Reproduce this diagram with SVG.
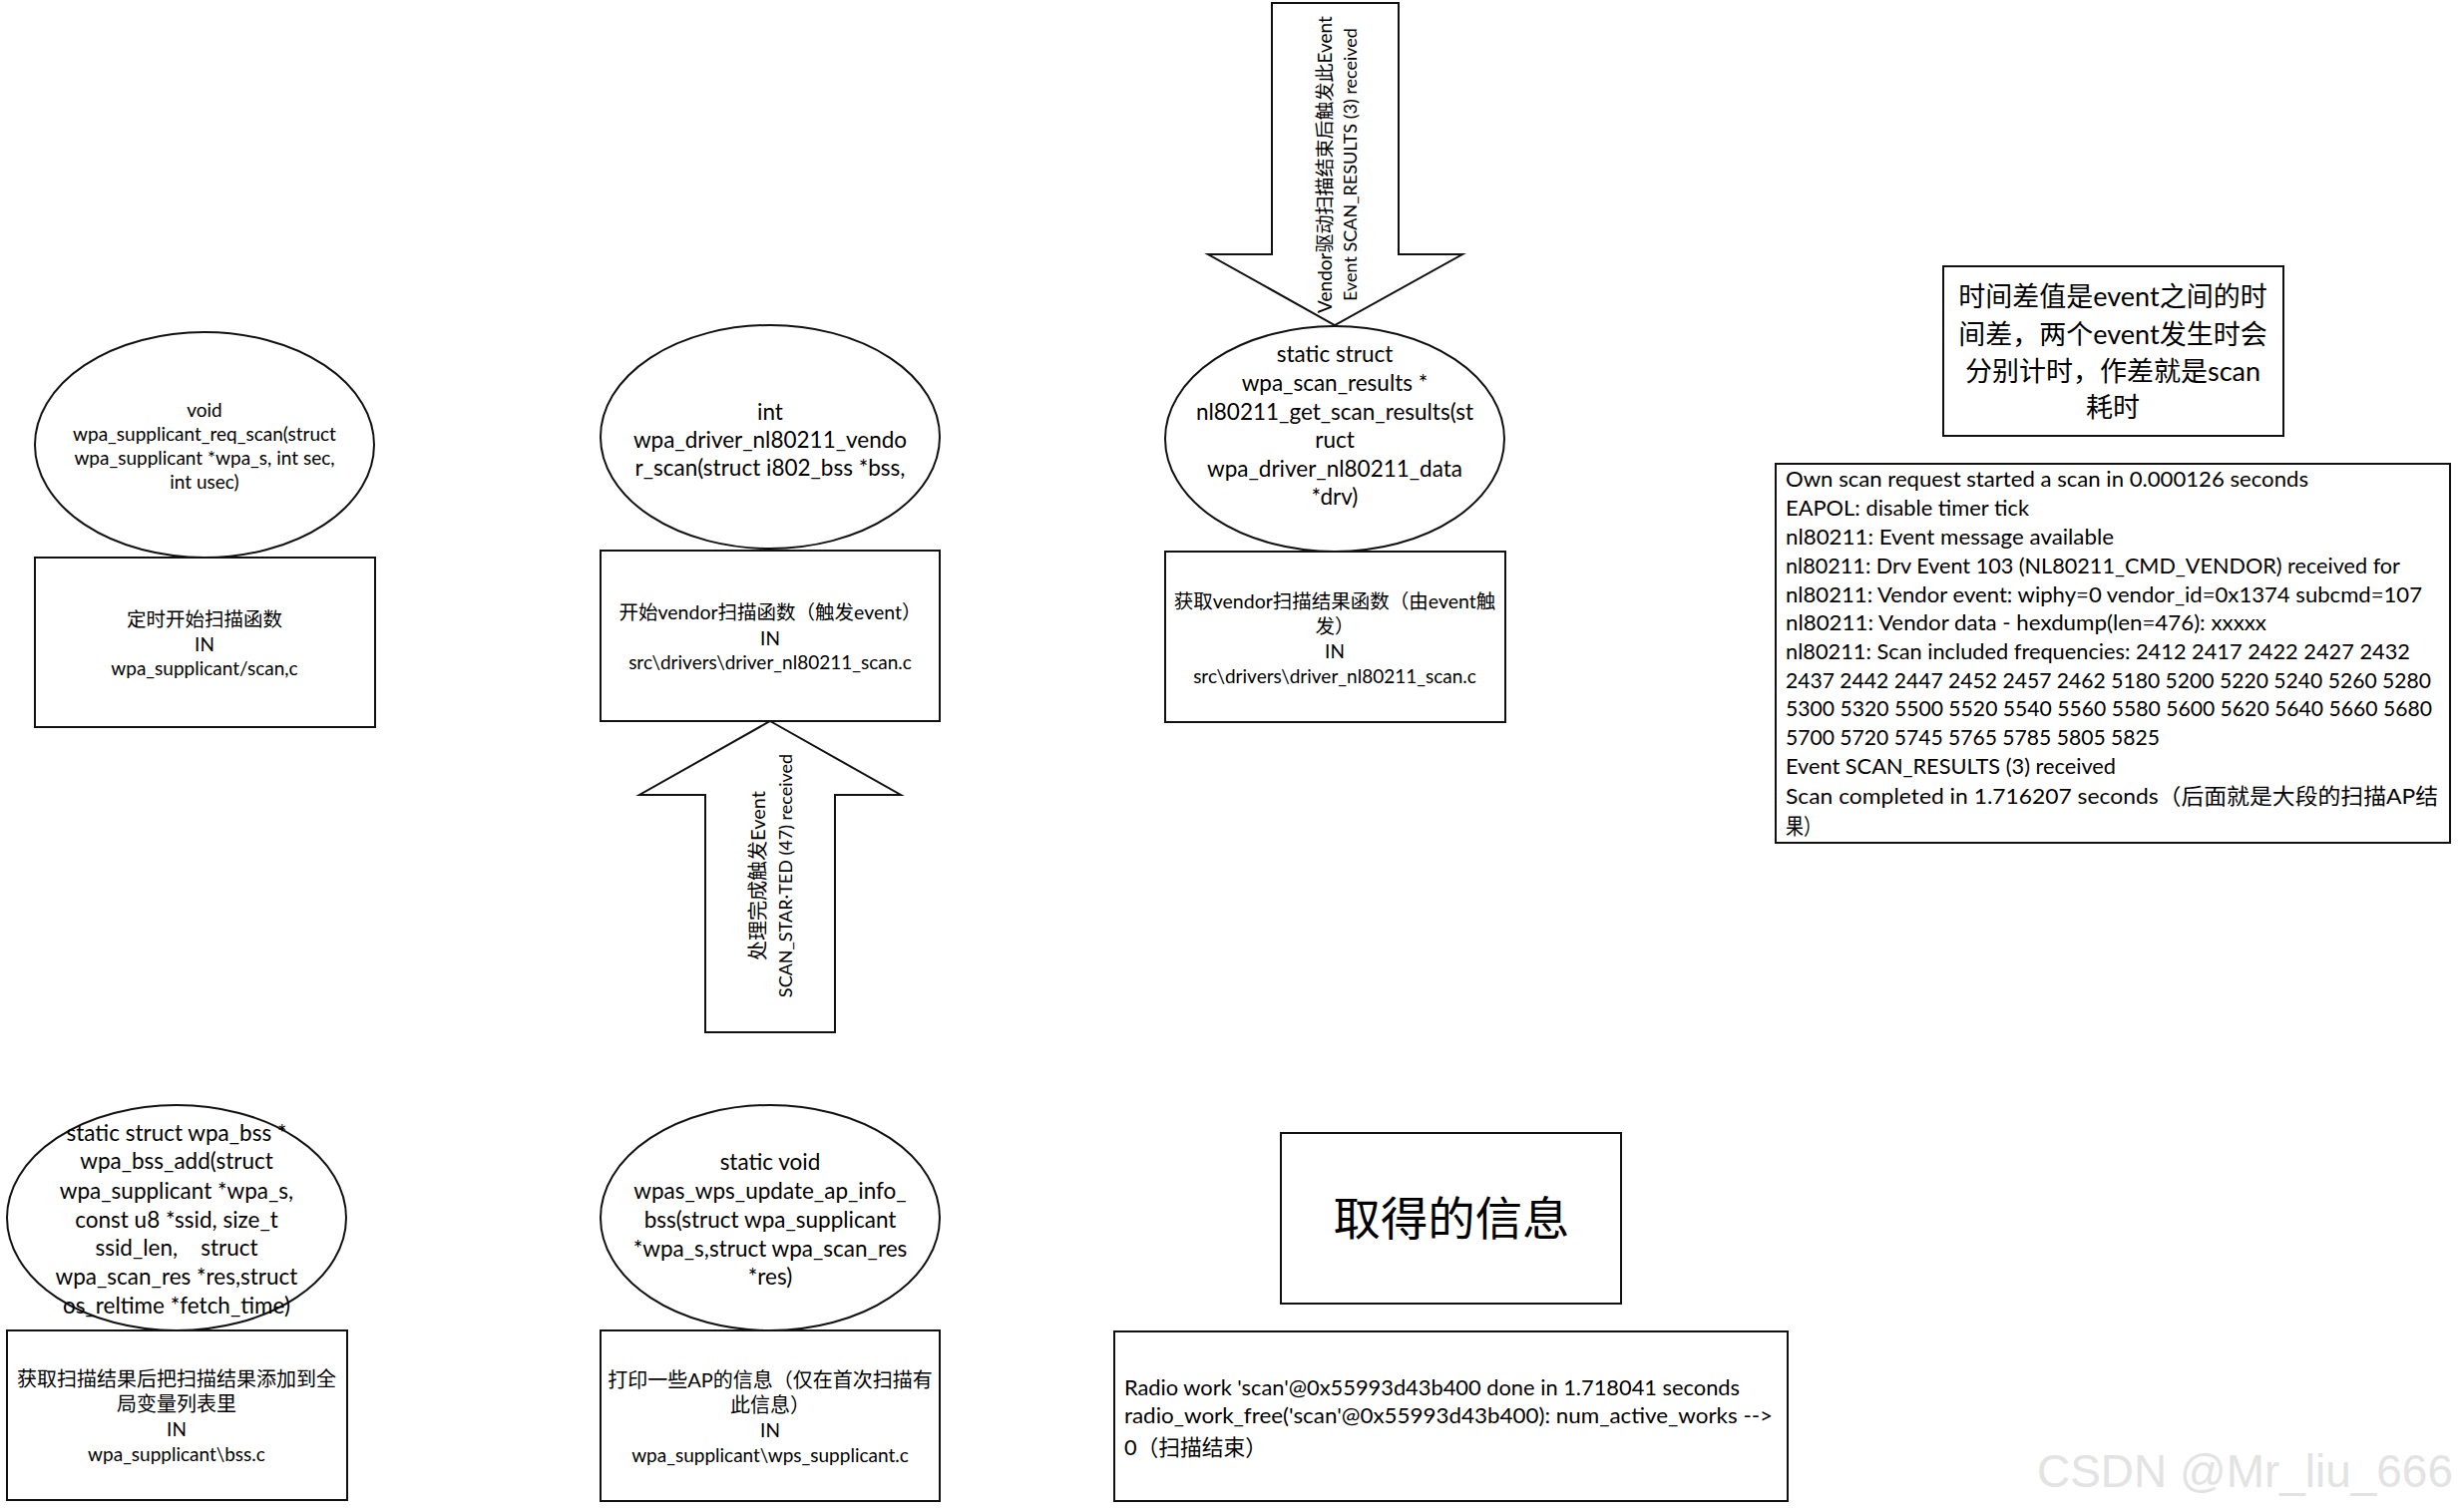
<svg xmlns="http://www.w3.org/2000/svg" width="2464" height="1516" viewBox="0 0 2464 1516">
<style>
.shape{fill:#fff;stroke:#111;stroke-width:2}
.t{font-family:Lato,"Noto Sans CJK SC",sans-serif;fill:#000;text-anchor:middle;dominant-baseline:central}
.s18{font-size:18px}.s19{font-size:19px}.s195{font-size:19.5px}.s20{font-size:20px}.s22{font-size:22.5px}.s27{font-size:27px}
.log{font-family:Lato,"Noto Sans CJK SC",sans-serif;fill:#000;font-size:22px;dominant-baseline:central}
.pre{white-space:pre}
</style>
<rect width="2464" height="1516" fill="#fff"/>
<g id="connectors">
  <g id="arrow-up">
    <polygon class="shape" points="772,723 903,797 837,797 837,1035 707,1035 707,797 641,797"/>
    <g transform="translate(773,878) rotate(-90)">
      <text class="t s20" x="0" y="-14">处理完成触发Event</text>
      <text class="t s18" x="0" y="14">SCAN_STAR·TED (47) received</text>
    </g>
  </g>
  <g id="arrow-down">
    <polygon class="shape" points="1275,3 1402,3 1402,255 1466,255 1338,326 1211,255 1275,255"/>
    <g transform="translate(1340,165) rotate(-90)">
      <text class="t s19" x="0" y="-13">Vendor驱动扫描结束后触发此Event</text>
      <text class="t s18" x="0" y="13">Event SCAN_RESULTS (3) received</text>
    </g>
  </g>
</g>
<g id="node-req-scan">
  <ellipse class="shape" cx="205" cy="446" rx="170" ry="113"/>
  <text class="t s19" x="205" y="410">void</text>
  <text class="t s19" x="205" y="434">wpa_supplicant_req_scan(struct</text>
  <text class="t s19" x="205" y="458">wpa_supplicant *wpa_s, int sec,</text>
  <text class="t s19" x="205" y="482">int usec)</text>
  <rect class="shape" x="35" y="559" width="341" height="170"/>
  <text class="t s195" x="205" y="620">定时开始扫描函数</text>
  <text class="t s19" x="205" y="645">IN</text>
  <text class="t s19" x="205" y="669">wpa_supplicant/scan,c</text>
</g>
<g id="node-vendor-scan">
  <ellipse class="shape" cx="772" cy="438" rx="170" ry="112"/>
  <text class="t s22" x="772" y="412">int</text>
  <text class="t s22" x="772" y="440">wpa_driver_nl80211_vendo</text>
  <text class="t s22" x="772" y="468">r_scan(struct i802_bss *bss,</text>
  <rect class="shape" x="602" y="552" width="340" height="171"/>
  <text class="t s195" x="772" y="613">开始vendor扫描函数（触发event）</text>
  <text class="t s19" x="772" y="639">IN</text>
  <text class="t s19" x="772" y="663">src\drivers\driver_nl80211_scan.c</text>
</g>
<g id="node-get-results">
  <ellipse class="shape" cx="1338" cy="440" rx="170" ry="113"/>
  <text class="t s22" x="1338" y="354">static struct</text>
  <text class="t s22" x="1338" y="383">wpa_scan_results *</text>
  <text class="t s22" x="1338" y="412">nl80211_get_scan_results(st</text>
  <text class="t s22" x="1338" y="440">ruct</text>
  <text class="t s22" x="1338" y="469">wpa_driver_nl80211_data</text>
  <text class="t s22" x="1338" y="497">*drv)</text>
  <rect class="shape" x="1168" y="553" width="341" height="171"/>
  <text class="t s195" x="1338" y="602">获取vendor扫描结果函数（由event触</text>
  <text class="t s195" x="1338" y="627">发）</text>
  <text class="t s19" x="1338" y="652">IN</text>
  <text class="t s19" x="1338" y="677">src\drivers\driver_nl80211_scan.c</text>
</g>
<g id="node-note">
  <rect class="shape" x="1948" y="267" width="341" height="170"/>
  <text class="t s27" x="2118" y="296">时间差值是event之间的时</text>
  <text class="t s27" x="2118" y="334">间差，两个event发生时会</text>
  <text class="t s27" x="2118" y="371">分别计时，作差就是scan</text>
  <text class="t s27" x="2118" y="407">耗时</text>
</g>
<g id="node-log">
  <rect class="shape" x="1780" y="465" width="676" height="380"/>
  <text class="log" x="1790" y="479" textLength="524" lengthAdjust="spacingAndGlyphs">Own scan request started a scan in 0.000126 seconds</text>
  <text class="log" x="1790" y="508" textLength="244" lengthAdjust="spacingAndGlyphs">EAPOL: disable timer tick</text>
  <text class="log" x="1790" y="537" textLength="329" lengthAdjust="spacingAndGlyphs">nl80211: Event message available</text>
  <text class="log" x="1790" y="566" textLength="616" lengthAdjust="spacingAndGlyphs">nl80211: Drv Event 103 (NL80211_CMD_VENDOR) received for</text>
  <text class="log" x="1790" y="595" textLength="638" lengthAdjust="spacingAndGlyphs">nl80211: Vendor event: wiphy=0 vendor_id=0x1374 subcmd=107</text>
  <text class="log" x="1790" y="623" textLength="482" lengthAdjust="spacingAndGlyphs">nl80211: Vendor data - hexdump(len=476): xxxxx</text>
  <text class="log" x="1790" y="652" textLength="626" lengthAdjust="spacingAndGlyphs">nl80211: Scan included frequencies: 2412 2417 2422 2427 2432</text>
  <text class="log" x="1790" y="681" textLength="647" lengthAdjust="spacingAndGlyphs">2437 2442 2447 2452 2457 2462 5180 5200 5220 5240 5260 5280</text>
  <text class="log" x="1790" y="709" textLength="648" lengthAdjust="spacingAndGlyphs">5300 5320 5500 5520 5540 5560 5580 5600 5620 5640 5660 5680</text>
  <text class="log" x="1790" y="738" textLength="375" lengthAdjust="spacingAndGlyphs">5700 5720 5745 5765 5785 5805 5825</text>
  <text class="log" x="1790" y="767" textLength="331" lengthAdjust="spacingAndGlyphs">Event SCAN_RESULTS (3) received</text>
  <text class="log" x="1790" y="797" textLength="654" lengthAdjust="spacingAndGlyphs">Scan completed in 1.716207 seconds（后面就是大段的扫描AP结</text>
  <text class="log" x="1790" y="827" textLength="36" lengthAdjust="spacingAndGlyphs">果）</text>
</g>
<g id="node-bss-add">
  <ellipse class="shape" cx="177" cy="1221" rx="170" ry="113"/>
  <text class="t s22" x="177" y="1135">static struct wpa_bss *</text>
  <text class="t s22" x="177" y="1163">wpa_bss_add(struct</text>
  <text class="t s22" x="177" y="1193">wpa_supplicant *wpa_s,</text>
  <text class="t s22" x="177" y="1222">const u8 *ssid, size_t</text>
  <text class="t s22 pre" x="177" y="1250">ssid_len,    struct</text>
  <text class="t s22" x="177" y="1279">wpa_scan_res *res,struct</text>
  <text class="t s22" x="177" y="1308">os_reltime *fetch_time)</text>
  <rect class="shape" x="7" y="1334" width="341" height="170"/>
  <text class="t s20" x="177" y="1382">获取扫描结果后把扫描结果添加到全</text>
  <text class="t s20" x="177" y="1407">局变量列表里</text>
  <text class="t s19" x="177" y="1432">IN</text>
  <text class="t s19" x="177" y="1457">wpa_supplicant\bss.c</text>
</g>
<g id="node-wps-update">
  <ellipse class="shape" cx="772" cy="1221" rx="170" ry="113"/>
  <text class="t s22" x="772" y="1164">static void</text>
  <text class="t s22" x="772" y="1193">wpas_wps_update_ap_info_</text>
  <text class="t s22" x="772" y="1222">bss(struct wpa_supplicant</text>
  <text class="t s22" x="772" y="1251">*wpa_s,struct wpa_scan_res</text>
  <text class="t s22" x="772" y="1279">*res)</text>
  <rect class="shape" x="602" y="1334" width="340" height="171"/>
  <text class="t s20" x="772" y="1383">打印一些AP的信息（仅在首次扫描有</text>
  <text class="t s20" x="772" y="1408">此信息）</text>
  <text class="t s19" x="772" y="1433">IN</text>
  <text class="t s19" x="772" y="1458">wpa_supplicant\wps_supplicant.c</text>
</g>
<g id="node-info-title">
  <rect class="shape" x="1284" y="1136" width="341" height="171"/>
  <text class="t" x="1455" y="1220" style="font-size:46px" textLength="237" lengthAdjust="spacingAndGlyphs">取得的信息</text>
</g>
<g id="node-radio-work">
  <rect class="shape" x="1117" y="1335" width="675" height="170"/>
  <text class="log" x="1127" y="1390" textLength="617" lengthAdjust="spacingAndGlyphs">Radio work 'scan'@0x55993d43b400 done in 1.718041 seconds</text>
  <text class="log" x="1127" y="1418" textLength="650" lengthAdjust="spacingAndGlyphs">radio_work_free('scan'@0x55993d43b400): num_active_works --&gt;</text>
  <text class="log" x="1127" y="1450" textLength="143" lengthAdjust="spacingAndGlyphs">0（扫描结束）</text>
</g>
<text x="2042" y="1491" style="font-family:'Liberation Sans',Arial,sans-serif;font-size:46px;fill:#e3e3e3" textLength="417" lengthAdjust="spacingAndGlyphs">CSDN @Mr_liu_666</text>
</svg>
